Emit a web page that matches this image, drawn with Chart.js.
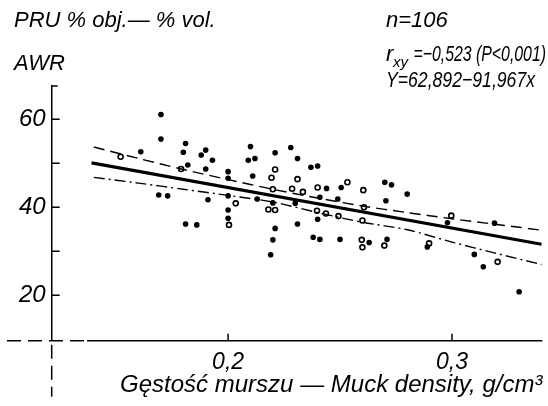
<!DOCTYPE html>
<html>
<head>
<meta charset="utf-8">
<script src="https://cdn.jsdelivr.net/npm/chart.js@4.4.0/dist/chart.umd.min.js"></script>
<style>
  body { margin: 0; background: #fff; }
</style>
</head>
<body>
<canvas id="myChart" width="548" height="406"></canvas>
<script>
// puntos llenos
const solidX = [0.170, 0.170, 0.161, 0.169, 0.173, 0.181, 0.180, 0.182, 0.188, 0.190, 0.193, 0.190, 0.191, 0.181, 0.186,
  0.200, 0.200, 0.200, 0.200, 0.200, 0.210, 0.212, 0.209, 0.211, 0.213, 0.221, 0.220, 0.221, 0.220, 0.219,
  0.228, 0.231, 0.237, 0.240, 0.244, 0.2505, 0.270, 0.273, 0.280, 0.241, 0.249, 0.2705, 0.230, 0.240, 0.231,
  0.238, 0.241, 0.250, 0.263, 0.271, 0.289, 0.298, 0.319, 0.310, 0.314, 0.330];
const solidY = [61.1, 55.5, 52.6, 42.8, 42.6, 54.5, 52.5, 49.6, 51.9, 53.0, 50.7, 48.7, 41.7, 36.2, 36.0,
  48.1, 46.6, 42.6, 39.4, 37.5, 53.8, 51.1, 50.7, 47.1, 41.9, 52.4, 41.0, 35.2, 32.6, 29.2,
  53.6, 51.1, 49.1, 49.4, 44.3, 44.5, 45.7, 45.1, 43.0, 42.3, 41.9, 41.5, 40.9, 37.3, 36.2,
  33.2, 32.7, 32.7, 32.0, 32.7, 31.0, 36.5, 36.4, 29.3, 26.5, 20.8];

// puntos vacios
const openX = [0.152, 0.179, 0.2034, 0.218, 0.221, 0.2194, 0.220, 0.221, 0.231, 0.2286, 0.2334, 0.240, 0.2533,
  0.2604, 0.2607, 0.2397, 0.2437, 0.2493, 0.260, 0.2597, 0.260, 0.2698, 0.2898, 0.2997, 0.3204, 0.2004];
const openY = [51.5, 48.7, 40.9, 39.5, 48.6, 46.7, 44.1, 39.4, 46.4, 44.2, 43.5, 44.5, 45.7,
  43.9, 40.0, 39.2, 38.6, 38.0, 37.0, 32.6, 30.9, 31.3, 31.8, 38.1, 27.6, 36.0];

// recta de regresion y bandas
const fitX = [0.139, 0.340];
const fitY = [50.1, 31.6];
const bandX = [0.14, 0.16, 0.18, 0.20, 0.22, 0.24, 0.26, 0.28, 0.30, 0.32, 0.34];
const bandUpper = [53.7, 51.1, 48.6, 46.3, 44.1, 42.1, 40.3, 38.8, 37.4, 36.1, 34.8];
const bandLower = [46.8, 45.5, 44.1, 42.7, 41.2, 38.8, 36.6, 34.9, 32.1, 29.5, 27.0];

const xTicks = [0.2, 0.3];
const yTicks = [20, 40, 60];
const yMinorTicks = [30, 50];

const yTitle = ['PRU % obj.— % vol.', 'AWR'];
const statN = 'n=106';
const statR = ' =−0,523 (P<0,001)';
const statEq = 'Y=62,892−91,967x';
const xTitle = 'Gęstość murszu — Muck density, g/cm³';

const fam = "'Liberation Sans', sans-serif";
const toPts = (xs, ys) => xs.map((v, i) => ({ x: v, y: ys[i] }));

// ejes, marcas y textos
const decoPlugin = {
  id: 'deco',
  beforeDatasetsDraw(chart) {
    const { ctx, chartArea, scales: { x, y } } = chart;
    const x0 = chartArea.left;
    const yb = y.getPixelForValue(y.min);
    ctx.save();
    ctx.strokeStyle = '#000';
    ctx.lineWidth = 1.5;
    // eje x
    ctx.beginPath();
    ctx.moveTo(x.getPixelForValue(0.137), yb);
    ctx.lineTo(chartArea.right, yb);
    ctx.stroke();
    ctx.setLineDash([14, 7]);
    ctx.beginPath();
    ctx.moveTo(7, yb);
    ctx.lineTo(x.getPixelForValue(0.137), yb);
    ctx.moveTo(x0, yb + 4);
    ctx.lineTo(x0, yb + 56);
    ctx.stroke();
    ctx.setLineDash([]);
    // marcas
    ctx.beginPath();
    yTicks.concat(yMinorTicks).forEach(v => {
      const py = y.getPixelForValue(v);
      ctx.moveTo(x0, py);
      ctx.lineTo(x0 + 8, py);
    });
    xTicks.forEach(v => {
      const px = x.getPixelForValue(v);
      ctx.moveTo(px, yb);
      ctx.lineTo(px, yb - 7);
    });
    ctx.moveTo(x0, chartArea.top);
    ctx.lineTo(x0 + 6, chartArea.top);
    ctx.stroke();
    ctx.restore();
  },
  afterDraw(chart) {
    const { ctx } = chart;
    ctx.save();
    ctx.fillStyle = '#000';
    ctx.font = `italic 22px ${fam}`;
    ctx.textBaseline = 'alphabetic';
    ctx.fillText(yTitle[0], 14, 27);
    ctx.fillText(yTitle[1], 14, 70);
    ctx.fillText(statN, 386, 27, 68);
    ctx.fillText('r', 386, 61);
    ctx.font = `italic 15px ${fam}`;
    ctx.fillText('xy', 393, 67);
    ctx.font = `italic 22px ${fam}`;
    ctx.fillText(statR, 409, 61, 137);
    ctx.fillText(statEq, 386, 87, 149);
    ctx.restore();
  }
};

new Chart(document.getElementById('myChart'), {
  type: 'scatter',
  data: {
    datasets: [
      { data: toPts(fitX, fitY), showLine: true, borderColor: '#000', borderWidth: 3.2, pointRadius: 0 },
      { data: toPts(bandX, bandUpper), showLine: true, borderColor: '#000', borderWidth: 1.4,
        borderDash: [11, 6], pointRadius: 0, tension: 0.3 },
      { data: toPts(bandX, bandLower), showLine: true, borderColor: '#000', borderWidth: 1.4,
        borderDash: [11, 4, 2, 4], pointRadius: 0, tension: 0.3 },
      { data: toPts(solidX, solidY), pointRadius: 2.8, backgroundColor: '#000', borderWidth: 0 },
      { data: toPts(openX, openY), pointRadius: 2.5, backgroundColor: '#fff', borderColor: '#000', borderWidth: 1.6 }
    ]
  },
  options: {
    responsive: false,
    animation: false,
    layout: { padding: { top: 86, right: 3, left: 0, bottom: 0 } },
    plugins: { legend: { display: false }, tooltip: { enabled: false } },
    scales: {
      x: {
        type: 'linear', min: 0.1212, max: 0.3404,
        grid: { display: false, drawTicks: false }, border: { display: false },
        afterBuildTicks: s => { s.ticks = xTicks.map(v => ({ value: v })); },
        afterFit: s => { s.height = 65.3; },
        ticks: { padding: 8, color: '#000', font: { family: fam, size: 23, style: 'italic' },
          callback: v => String(v).replace('.', ',') },
        title: { display: true, text: xTitle, align: 'end', color: '#000',
          font: { family: fam, size: 24, style: 'italic' }, padding: { top: 0, bottom: 6 } }
      },
      y: {
        min: 9.68, max: 67.57,
        grid: { display: false, drawTicks: false }, border: { display: true, color: '#000', width: 1.5 },
        afterBuildTicks: s => { s.ticks = yTicks.map(v => ({ value: v })); },
        afterFit: s => { s.width = 51.7; },
        ticks: { padding: 6, color: '#000', font: { family: fam, size: 24, style: 'italic' } }
      }
    }
  },
  plugins: [decoPlugin]
});
</script>
</body>
</html>
